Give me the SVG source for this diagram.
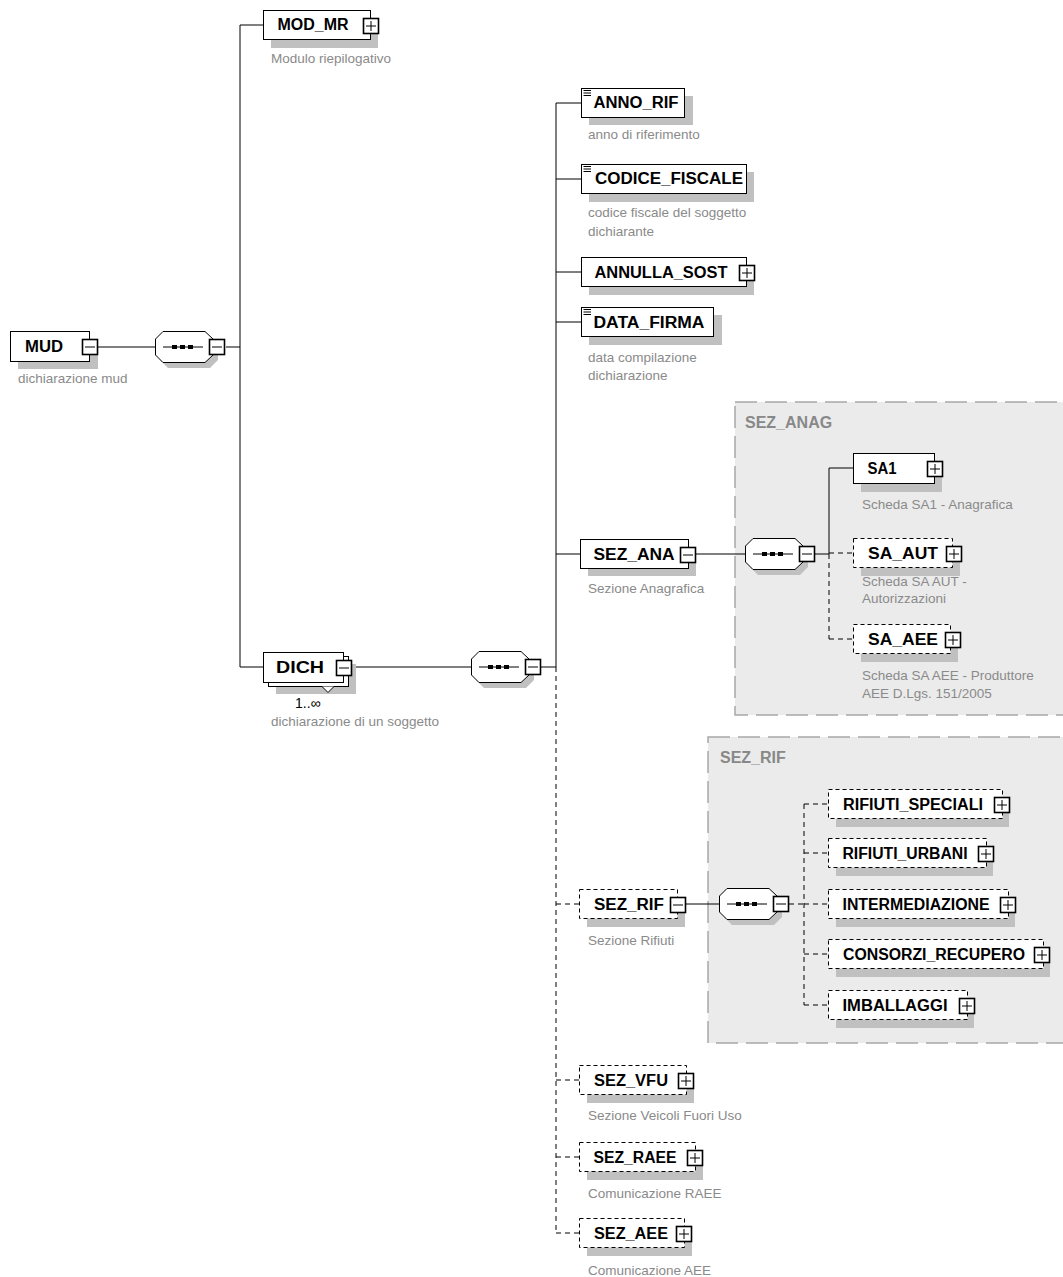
<svg xmlns="http://www.w3.org/2000/svg" xmlns:xlink="http://www.w3.org/1999/xlink" width="1063" height="1277" viewBox="0 0 1063 1277">
<style>
.box{fill:#fff;stroke:#000;stroke-width:1}
.dbox{fill:#fff;stroke:#000;stroke-width:1;stroke-dasharray:4 3}
.sh{fill:#c0c0c0}
.name{font-family:"Liberation Sans",Arial,sans-serif;font-weight:bold;font-size:16px;fill:#000;text-anchor:middle}
.desc{font-family:"Liberation Sans",Arial,sans-serif;font-size:13.5px;fill:#8a8a8a}
.glabel{font-family:"Liberation Sans",Arial,sans-serif;font-weight:bold;font-size:16px;fill:#888}
.occ{font-family:"Liberation Sans",Arial,sans-serif;font-size:14px;fill:#000}
.pm{fill:#fff;stroke:#000;stroke-width:1.6}
.conn{stroke:#000;stroke-width:1;fill:none}
.dconn{stroke:#000;stroke-width:1;fill:none;stroke-dasharray:5 4}
.group{fill:#ebebeb;stroke:#a8a8a8;stroke-width:1.5;stroke-dasharray:22 8}
</style>
<defs>
<g id="plus"><rect class="pm" x="0.5" y="0.5" width="15" height="15"/><path d="M3 8H13M8 3V13" stroke="#000" stroke-width="1"/></g>
<g id="minus"><rect class="pm" x="0.5" y="0.5" width="15" height="15"/><path d="M3 8H13" stroke="#000" stroke-width="1"/></g>
<g id="seq">
<polygon points="13,5 55,5 63,13 63,29 55,37 13,37 5,29 5,13" class="sh"/>
<polygon points="8,0.5 50,0.5 58,8 58,24 50,31.5 8,31.5 0.5,24 0.5,8" fill="#fff" stroke="#000" stroke-width="1"/>
<path d="M8 16H48" stroke="#000" stroke-width="1"/>
<rect x="17" y="14" width="5" height="4" fill="#000"/>
<rect x="25" y="14" width="5" height="4" fill="#000"/>
<rect x="33" y="14" width="5" height="4" fill="#000"/>
<use xlink:href="#minus" x="54" y="8"/>
</g>
<g id="doc"><path d="M2.5 2.5H10M2.5 5H10M2.5 7.5H10" stroke="#000" stroke-width="1"/></g>
</defs>

<!-- group backgrounds -->
<g id="SEZ_ANAG_group">
<rect class="group" x="735" y="402" width="345" height="313"/>
<text class="glabel" x="745" y="428">SEZ_ANAG</text>
</g>
<g id="SEZ_RIF_group">
<rect class="group" x="708" y="737" width="372" height="306"/>
<text class="glabel" x="720" y="763">SEZ_RIF</text>
</g>

<!-- connectors -->
<g id="connectors">
<path class="conn" d="M98 347H155"/>
<path class="conn" d="M226 347H240M240 25V667M240 25H263M240 667H263"/>
<path class="conn" d="M353 667H471"/>
<path class="conn" d="M541 667H556M556 103V667M556 103H581M556 179H581M556 272H581M556 322H581M556 554H580"/>
<path class="dconn" d="M556 667V1233M556 904H579M556 1080H579M556 1157H579M556 1233H579"/>
<path class="conn" d="M696 554H745M815 554H829M829 468V554M829 468H853"/>
<path class="dconn" d="M829 554V639M829 553H853M829 639H853"/>
<path class="conn" d="M686 904H719"/>
<path class="dconn" d="M789 904H804M804 804V1005M804 804H828M804 853H828M804 904H828M804 954H828M804 1005H828"/>
</g>

<!-- compositors -->
<g id="seq_MUD"><use xlink:href="#seq" x="155" y="331"/></g>
<g id="seq_DICH"><use xlink:href="#seq" x="471" y="651"/></g>
<g id="seq_SEZ_ANA"><use xlink:href="#seq" x="745" y="538"/></g>
<g id="seq_SEZ_RIF"><use xlink:href="#seq" x="719" y="888"/></g>

<g id="MUD">
<rect class="sh" x="18" y="339" width="80" height="30"/>
<rect class="box" x="10.5" y="331.5" width="79" height="30"/>
<text class="name" x="44" y="352" textLength="38" lengthAdjust="spacingAndGlyphs">MUD</text>
<use xlink:href="#minus" x="82" y="339"/>
<text class="desc" x="18" y="383">dichiarazione mud</text>
</g>

<g id="MOD_MR">
<rect class="sh" x="271" y="18" width="107" height="30"/>
<rect class="box" x="263.5" y="10.5" width="107" height="29"/>
<text class="name" x="313" y="30" textLength="71" lengthAdjust="spacingAndGlyphs">MOD_MR</text>
<use xlink:href="#plus" x="363" y="18"/>
<text class="desc" x="271" y="63">Modulo riepilogativo</text>
</g>

<g id="DICH">
<rect class="sh" x="276" y="664" width="80" height="30"/>
<rect class="box" x="268.5" y="656.5" width="80" height="30"/>
<polyline points="322,686.5 328,692.5 334,686.5" fill="#fff" stroke="#000" stroke-width="1"/>
<rect class="box" x="263.5" y="652.5" width="80" height="30"/>
<text class="name" x="300" y="673" textLength="48" lengthAdjust="spacingAndGlyphs">DICH</text>
<use xlink:href="#minus" x="336" y="660"/>
<text class="occ" x="295" y="708">1..∞</text>
<text class="desc" x="271" y="726">dichiarazione di un soggetto</text>
</g>

<g id="ANNO_RIF">
<rect class="sh" x="589" y="96" width="104" height="29"/>
<rect class="box" x="581.5" y="88.5" width="103" height="29"/>
<use xlink:href="#doc" x="581" y="88"/>
<text class="name" x="636" y="108" textLength="85" lengthAdjust="spacingAndGlyphs">ANNO_RIF</text>
<text class="desc" x="588" y="139">anno di riferimento</text>
</g>

<g id="CODICE_FISCALE">
<rect class="sh" x="589" y="172" width="165" height="30"/>
<rect class="box" x="581.5" y="164.5" width="165" height="29"/>
<use xlink:href="#doc" x="581" y="164"/>
<text class="name" x="669" y="184" textLength="148" lengthAdjust="spacingAndGlyphs">CODICE_FISCALE</text>
<text class="desc" x="588" y="217">codice fiscale del soggetto</text>
<text class="desc" x="588" y="236">dichiarante</text>
</g>

<g id="ANNULLA_SOST">
<rect class="sh" x="589" y="265" width="165" height="30"/>
<rect class="box" x="581.5" y="257.5" width="165" height="29"/>
<text class="name" x="661" y="278" textLength="133" lengthAdjust="spacingAndGlyphs">ANNULLA_SOST</text>
<use xlink:href="#plus" x="739" y="265"/>
</g>

<g id="DATA_FIRMA">
<rect class="sh" x="589" y="315" width="133" height="30"/>
<rect class="box" x="581.5" y="307.5" width="132" height="29"/>
<use xlink:href="#doc" x="581" y="307"/>
<text class="name" x="649" y="328" textLength="111" lengthAdjust="spacingAndGlyphs">DATA_FIRMA</text>
<text class="desc" x="588" y="362">data compilazione</text>
<text class="desc" x="588" y="380">dichiarazione</text>
</g>

<g id="SEZ_ANA">
<rect class="sh" x="588" y="547" width="108" height="29"/>
<rect class="box" x="580.5" y="539.5" width="108" height="29"/>
<text class="name" x="634" y="560" textLength="81" lengthAdjust="spacingAndGlyphs">SEZ_ANA</text>
<use xlink:href="#minus" x="680" y="547"/>
<text class="desc" x="588" y="593">Sezione Anagrafica</text>
</g>

<g id="SA1">
<rect class="sh" x="861" y="461" width="81" height="31"/>
<rect class="box" x="853.5" y="453.5" width="81" height="30"/>
<text class="name" x="882" y="474" textLength="29" lengthAdjust="spacingAndGlyphs">SA1</text>
<use xlink:href="#plus" x="927" y="461"/>
<text class="desc" x="862" y="509">Scheda SA1 - Anagrafica</text>
</g>

<g id="SA_AUT">
<rect class="sh" x="861" y="546" width="99" height="30"/>
<rect class="dbox" x="853.5" y="538.5" width="99" height="29"/>
<text class="name" x="903" y="559" textLength="70" lengthAdjust="spacingAndGlyphs">SA_AUT</text>
<use xlink:href="#plus" x="946" y="546"/>
<text class="desc" x="862" y="586">Scheda SA AUT -</text>
<text class="desc" x="862" y="603">Autorizzazioni</text>
</g>

<g id="SA_AEE">
<rect class="sh" x="861" y="632" width="97" height="30"/>
<rect class="dbox" x="853.5" y="624.5" width="97" height="29"/>
<text class="name" x="903" y="645" textLength="70" lengthAdjust="spacingAndGlyphs">SA_AEE</text>
<use xlink:href="#plus" x="945" y="632"/>
<text class="desc" x="862" y="680">Scheda SA AEE - Produttore</text>
<text class="desc" x="862" y="698">AEE D.Lgs. 151/2005</text>
</g>

<g id="SEZ_RIF">
<rect class="sh" x="587" y="897" width="98" height="30"/>
<rect class="dbox" x="579.5" y="889.5" width="98" height="29"/>
<text class="name" x="629" y="910" textLength="70" lengthAdjust="spacingAndGlyphs">SEZ_RIF</text>
<use xlink:href="#minus" x="670" y="897"/>
<text class="desc" x="588" y="945">Sezione Rifiuti</text>
</g>

<g id="RIFIUTI_SPECIALI">
<rect class="sh" x="836" y="797" width="173" height="30"/>
<rect class="dbox" x="828.5" y="789.5" width="174" height="29"/>
<text class="name" x="913" y="810" textLength="140" lengthAdjust="spacingAndGlyphs">RIFIUTI_SPECIALI</text>
<use xlink:href="#plus" x="994" y="797"/>
</g>

<g id="RIFIUTI_URBANI">
<rect class="sh" x="836" y="846" width="157" height="30"/>
<rect class="dbox" x="828.5" y="838.5" width="158" height="29"/>
<text class="name" x="905" y="859" textLength="125" lengthAdjust="spacingAndGlyphs">RIFIUTI_URBANI</text>
<use xlink:href="#plus" x="978" y="846"/>
</g>

<g id="INTERMEDIAZIONE">
<rect class="sh" x="836" y="897" width="179" height="30"/>
<rect class="dbox" x="828.5" y="889.5" width="180" height="29"/>
<text class="name" x="916" y="910" textLength="147" lengthAdjust="spacingAndGlyphs">INTERMEDIAZIONE</text>
<use xlink:href="#plus" x="1000" y="897"/>
</g>

<g id="CONSORZI_RECUPERO">
<rect class="sh" x="836" y="947" width="214" height="30"/>
<rect class="dbox" x="828.5" y="939.5" width="215" height="29"/>
<text class="name" x="934" y="960" textLength="182" lengthAdjust="spacingAndGlyphs">CONSORZI_RECUPERO</text>
<use xlink:href="#plus" x="1034" y="947"/>
</g>

<g id="IMBALLAGGI">
<rect class="sh" x="836" y="998" width="138" height="30"/>
<rect class="dbox" x="828.5" y="990.5" width="139" height="29"/>
<text class="name" x="895" y="1011" textLength="105" lengthAdjust="spacingAndGlyphs">IMBALLAGGI</text>
<use xlink:href="#plus" x="959" y="998"/>
</g>

<g id="SEZ_VFU">
<rect class="sh" x="587" y="1073" width="107" height="30"/>
<rect class="dbox" x="579.5" y="1065.5" width="107" height="29"/>
<text class="name" x="631" y="1086" textLength="74" lengthAdjust="spacingAndGlyphs">SEZ_VFU</text>
<use xlink:href="#plus" x="678" y="1073"/>
<text class="desc" x="588" y="1120">Sezione Veicoli Fuori Uso</text>
</g>

<g id="SEZ_RAEE">
<rect class="sh" x="587" y="1150" width="116" height="30"/>
<rect class="dbox" x="579.5" y="1142.5" width="116" height="29"/>
<text class="name" x="635" y="1163" textLength="83" lengthAdjust="spacingAndGlyphs">SEZ_RAEE</text>
<use xlink:href="#plus" x="687" y="1150"/>
<text class="desc" x="588" y="1198">Comunicazione RAEE</text>
</g>

<g id="SEZ_AEE">
<rect class="sh" x="587" y="1226" width="105" height="30"/>
<rect class="dbox" x="579.5" y="1218.5" width="105" height="29"/>
<text class="name" x="631" y="1239" textLength="74" lengthAdjust="spacingAndGlyphs">SEZ_AEE</text>
<use xlink:href="#plus" x="676" y="1226"/>
<text class="desc" x="588" y="1275">Comunicazione AEE</text>
</g>
</svg>
